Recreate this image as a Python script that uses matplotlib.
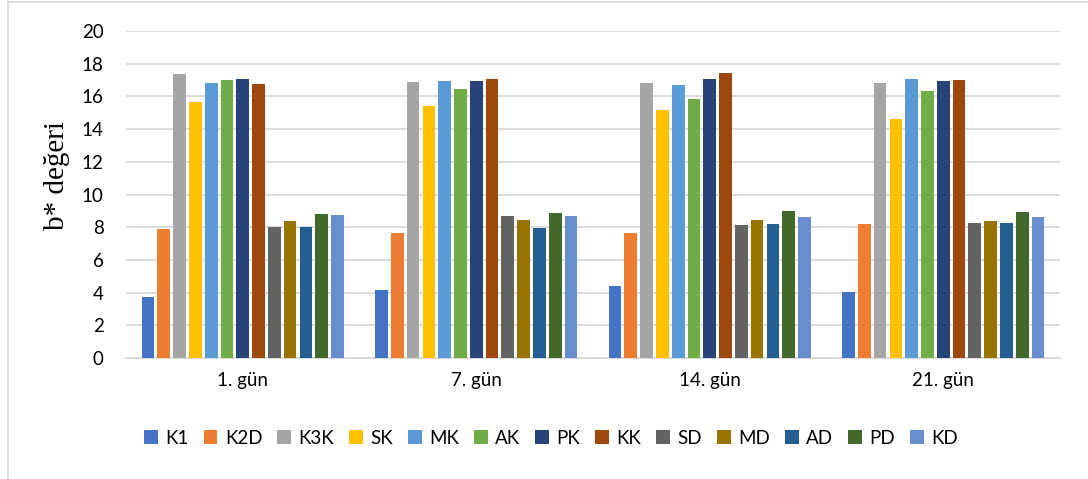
import numpy as np
import matplotlib
matplotlib.use("Agg")
import matplotlib.pyplot as plt
from matplotlib.lines import Line2D

days = ["1. gün", "7. gün", "14. gün", "21. gün"]
samples = ["K1", "K2D", "K3K", "SK", "MK", "AK", "PK", "KK", "SD", "MD", "AD", "PD", "KD"]

K1 = [3.75, 4.13, 4.40, 4.05]
K2D = [7.92, 7.66, 7.62, 8.17]
K3K = [17.37, 16.88, 16.80, 16.80]
SK = [15.68, 15.44, 15.17, 14.64]
MK = [16.82, 16.92, 16.68, 17.09]
AK = [17.00, 16.46, 15.82, 16.33]
PK = [17.07, 16.97, 17.05, 16.97]
KK = [16.74, 17.05, 17.43, 17.01]
SD = [8.00, 8.70, 8.11, 8.25]
MD = [8.39, 8.43, 8.43, 8.39]
AD = [8.04, 7.98, 8.21, 8.25]
PD = [8.80, 8.84, 8.98, 8.92]
KD = [8.72, 8.70, 8.64, 8.64]

series = [K1, K2D, K3K, SK, MK, AK, PK, KK, SD, MD, AD, PD, KD]
colors = ["#4472C4", "#ED7D31", "#A5A5A5", "#FFC000", "#5B9BD5", "#70AD47",
          "#264478", "#9E480E", "#636363", "#997300", "#255E91", "#43682B", "#698ED0"]

sans = ["Lato", "DejaVu Sans"]
serif = ["Liberation Serif", "DejaVu Serif"]

fig = plt.figure(figsize=(10.88, 4.79), dpi=100)
ax = fig.add_axes([126 / 1088, 1 - 358 / 479, 934 / 1088, 327 / 479])

x = np.arange(len(days))
pitch = 0.0676
width = 0.0545
n = len(series)
for i, (vals, c, name) in enumerate(zip(series, colors, samples)):
    offs = (i - (n - 1) / 2) * pitch
    ax.bar(x + offs, vals, width=width, color=c, label=name, zorder=3)

ax.set_xlim(-0.5, len(days) - 0.5)
ax.set_ylim(0, 20)
ax.set_yticks(np.arange(0, 21, 2))
ax.set_xticks(x)
ax.set_xticklabels(days, family=sans, fontsize=13.5)
for lab in ax.get_yticklabels():
    lab.set_family(sans)
    lab.set_fontsize(13.5)
ax.tick_params(axis="both", length=0, colors="#000000")
ax.tick_params(axis="y", pad=16)
ax.tick_params(axis="x", pad=10)
ax.yaxis.grid(True, color="#d9d9d9", linewidth=1.3, zorder=0)
ax.set_axisbelow(True)
for side in ["top", "right", "left"]:
    ax.spines[side].set_visible(False)
ax.spines["bottom"].set_color("#d9d9d9")
ax.spines["bottom"].set_linewidth(1.3)

fig.text(56.5 / 1088, 1 - 176 / 479, "b* değeri", rotation=90, ha="center",
         va="center", family=serif, fontsize=21)

leg = fig.legend(loc="center", bbox_to_anchor=(551 / 1088, 1 - 438 / 479),
                 ncol=n, frameon=False, handlelength=0.73, handleheight=0.73,
                 handletextpad=0.4, columnspacing=0.8,
                 prop={"family": sans, "size": 13.5})

# chart area border (left and top edges)
fig.add_artist(Line2D([7.5 / 1088, 7.5 / 1088], [0, 1 - 1.5 / 479],
                      transform=fig.transFigure, color="#d9d9d9", linewidth=1.3))
fig.add_artist(Line2D([7.5 / 1088, 1], [1 - 1.5 / 479, 1 - 1.5 / 479],
                      transform=fig.transFigure, color="#d9d9d9", linewidth=1.3))

fig.savefig("out.png", dpi=100)
